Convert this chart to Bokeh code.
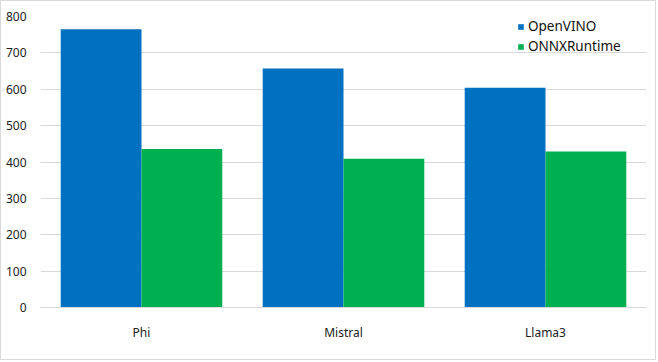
from bokeh.plotting import figure
from bokeh.models import ColumnDataSource, FactorRange, Legend, LegendItem, SingleIntervalTicker
from bokeh.transform import dodge
from bokeh.embed import file_html
from bokeh.resources import INLINE

categories = ["Phi", "Mistral", "Llama3"]
openvino = [765, 657, 604]
onnxruntime = [436, 409, 429]
series_names = ["OpenVINO", "ONNXRuntime"]

FONT = "Noto Sans"
src = ColumnDataSource(dict(cat=categories, ov=openvino, ort=onnxruntime))

p = figure(x_range=FactorRange(*categories, range_padding=0), y_range=(0, 800),
           width=656, height=360, output_backend="svg", toolbar_location=None,
           min_border_left=39, min_border_right=11, min_border_top=15, min_border_bottom=54)
p.styles = {"border": "1px solid #D9D9D9"}
p.x_range.factor_padding = 0
p.outline_line_color = None
p.background_fill_color = "white"
p.border_fill_color = "white"

r1 = p.vbar(x=dodge("cat", -0.2, range=p.x_range), top="ov", width=0.4, source=src,
            fill_color="#0070C0", line_color=None)
r2 = p.vbar(x=dodge("cat", 0.2, range=p.x_range), top="ort", width=0.4, source=src,
            fill_color="#00B050", line_color=None)

p.yaxis.ticker = SingleIntervalTicker(interval=100)
p.yaxis.axis_line_color = None
p.yaxis.major_tick_line_color = None
p.yaxis.minor_tick_line_color = None
p.yaxis.major_label_text_font = FONT
p.yaxis.major_label_text_font_size = "12px"
p.yaxis.major_label_text_color = "#222222"
p.yaxis.major_label_standoff = 8

p.xaxis.axis_line_color = "#D9D9D9"
p.xaxis.major_tick_line_color = None
p.xaxis.minor_tick_line_color = None
p.xaxis.major_label_text_font = FONT
p.xaxis.major_label_text_font_size = "12px"
p.xaxis.major_label_text_color = "#222222"
p.xaxis.major_label_standoff = 10

p.xgrid.grid_line_color = None
p.ygrid.grid_line_color = "#D9D9D9"

legend = Legend(items=[LegendItem(label=series_names[0], renderers=[r1]),
                       LegendItem(label=series_names[1], renderers=[r2])],
                location=(477, 252), orientation="vertical",
                glyph_width=7, glyph_height=7, label_text_font=FONT,
                label_text_font_size="13.5px", label_text_color="#111111",
                label_standoff=4, label_height=14, spacing=2, padding=0, margin=0,
                border_line_color=None, background_fill_alpha=0)
p.add_layout(legend)

open("out.html", "w").write(file_html(p, INLINE))
